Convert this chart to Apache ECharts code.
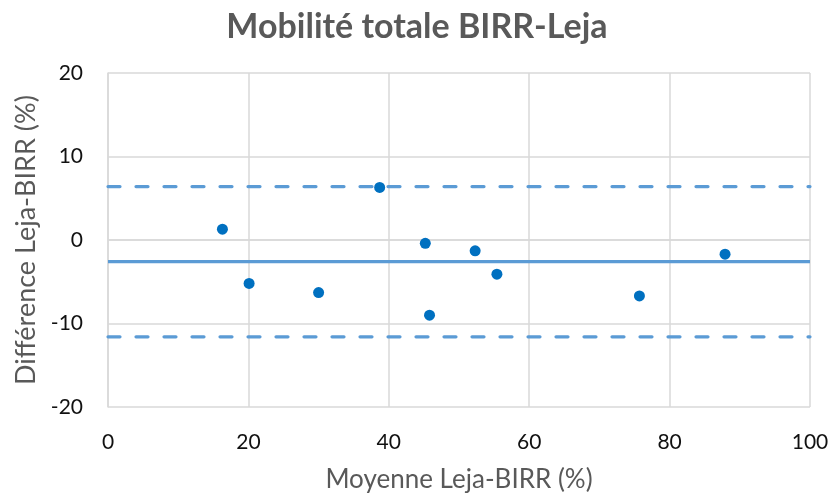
<!DOCTYPE html>
<html>
<head>
<meta charset="utf-8">
<script src="https://cdn.jsdelivr.net/npm/echarts@6/dist/echarts.min.js"></script>
<style>
  html, body { margin: 0; padding: 0; background: #fff; }
  #chart { width: 834px; height: 498px; }
</style>
</head>
<body>
<div id="chart"></div>
<script>
// Bland-Altman: mean of the two methods vs their difference
const meanValues = [16.3, 20.1, 30.0, 38.7, 45.2, 45.8, 52.3, 55.4, 75.7, 87.9];
const diffValues = [1.3, -5.2, -6.3, 6.3, -0.4, -9.0, -1.3, -4.1, -6.7, -1.7];
const biasLine = -2.6;
const upperLimit = 6.4;
const lowerLimit = -11.6;
const xRange = [0, 100];
const yRange = [-20, 20];

const points = meanValues.map((m, i) => [m, diffValues[i]]);
const hLine = v => [[xRange[0], v], [xRange[1], v]];

const chart = echarts.init(document.getElementById('chart'));
const gridColor = '#d9d9d9';
const textGray = '#595959';
const font = 'Lato, "Open Sans", sans-serif';

chart.setOption({
  animation: false,
  title: {
    text: 'Mobilité totale BIRR-Leja',
    left: 'center',
    top: 5,
    textStyle: { fontFamily: font, fontSize: 34, fontWeight: 'bold', color: textGray }
  },
  grid: { left: 108, right: 24, top: 73, bottom: 90 },
  xAxis: {
    type: 'value',
    min: xRange[0], max: xRange[1], interval: 20,
    name: 'Moyenne Leja-BIRR (%)',
    nameLocation: 'middle',
    nameGap: 60,
    nameTextStyle: { fontFamily: font, fontSize: 26, color: textGray },
    axisLine: { show: true, lineStyle: { color: gridColor, width: 1.5 } },
    axisTick: { show: false },
    axisLabel: { fontFamily: font, fontSize: 21, color: '#111', margin: 25 },
    splitLine: { show: true, lineStyle: { color: gridColor, width: 1.5 } }
  },
  yAxis: {
    type: 'value',
    min: yRange[0], max: yRange[1], interval: 10,
    name: 'Différence Leja-BIRR (%)',
    nameLocation: 'middle',
    nameGap: 67,
    nameTextStyle: { fontFamily: font, fontSize: 27, color: textGray },
    axisLine: { show: true, lineStyle: { color: gridColor, width: 1.5 } },
    axisTick: { show: false },
    axisLabel: { fontFamily: font, fontSize: 21, color: '#111', margin: 25 },
    splitLine: { show: true, lineStyle: { color: gridColor, width: 1.5 } }
  },
  series: [
    {
      type: 'line', data: hLine(upperLimit), symbol: 'none', silent: true,
      lineStyle: { color: '#5b9bd5', width: 3.2, type: [12, 16], cap: 'round' }
    },
    {
      type: 'line', data: hLine(lowerLimit), symbol: 'none', silent: true,
      lineStyle: { color: '#5b9bd5', width: 3.2, type: [12, 16], cap: 'round' }
    },
    {
      type: 'line', data: hLine(biasLine), symbol: 'none', silent: true,
      lineStyle: { color: '#5b9bd5', width: 3.2 }
    },
    {
      type: 'scatter', data: points, symbol: 'circle', symbolSize: 11,
      itemStyle: { color: '#0070c0', opacity: 1 }, z: 5
    }
  ]
});
</script>
</body>
</html>
